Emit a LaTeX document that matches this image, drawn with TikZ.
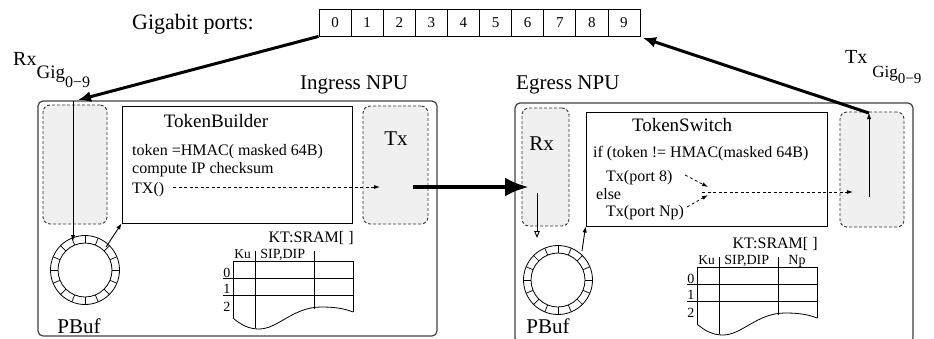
\documentclass[tikz,border=0pt]{standalone}
\usepackage{fontspec}
\setmainfont{Liberation Serif}
\usetikzlibrary{arrows.meta}
\newcommand{\fs}[1]{\fontsize{#1}{#1}\selectfont}
\newcommand{\pbring}[2]{%
  \node[circle, draw, line width=0.8pt, minimum size=69pt, inner sep=0] (#1) at #2 {};
  \node[circle, draw, line width=0.8pt, minimum size=54pt, inner sep=0] (#1i) at #2 {};
  \foreach \a in {0,22.5,...,337.5} \draw[line width=0.7pt] (#1.center) ++(\a:27pt) -- ++(\a:7.5pt);
}
\newcommand{\kttable}[4]{%
  \begin{scope}[shift={(#1,#2)}, line width=0.8pt]
    \draw (0,0) -- (120,0);
    \draw (0,0) -- (0,57);
    \draw (22,-10) -- (22,67);
    \draw (81,-10) -- (81,48);
    \draw (120,0) -- (120,51);
    \draw (-10,17) -- (120,17);
    \draw (-10,34) -- (120,34);
    \draw (0,57) .. controls (8,64) and (16,68) .. (26,68) .. controls (45,68) and (60,46) .. (88,46) .. controls (100,46) and (110,47) .. (120,51);
    \node[anchor=base east, inner sep=0, font=\fs{16}] (kt#4) at (121,-19) {KT:SRAM[ ]};
    \node[anchor=base west, inner sep=0, font=\fs{13.5}] (ku#4) at (1,-3) {Ku};
    \node[anchor=base west, inner sep=0, font=\fs{14}] (sd#4) at (27,-3) {SIP,DIP};
    \node[anchor=base west, inner sep=0, font=\fs{14}] (np#4) at (91,-3) {#3};
    \node[anchor=base west, inner sep=0, font=\fs{14}] (r0#4) at (-10,16) {0};
    \node[anchor=base west, inner sep=0, font=\fs{14}] (r1#4) at (-10,32.5) {1};
    \node[anchor=base west, inner sep=0, font=\fs{14}] (r2#4) at (-10,50) {2};
  \end{scope}
}
\begin{document}
\begin{tikzpicture}[x=1pt,y=-1pt,
  size/.style 2 args={minimum width=#1pt, minimum height=#2pt},
  npu/.style={draw=black!75, line width=1.2pt, rounded corners=5pt, inner sep=0},
  dbox/.style={draw=black!80, dash pattern=on 3pt off 2pt, line width=0.9pt, fill=black!6, rounded corners=7pt, inner sep=0},
  sbox/.style={draw, line width=0.9pt, inner sep=0},
  port/.style={draw, line width=0.8pt, minimum width=32.1pt, minimum height=27pt, inner sep=0, font=\fs{15}},
  txt/.style={inner sep=0, anchor=base west, font=\fs{16}},
  big/.style={inner sep=0, font=\fs{21}},
  thickarrow/.style={line width=3pt, -{Latex[length=13pt,width=11pt]}},
  bigarrow/.style={line width=4.5pt, -{Latex[length=24pt,width=19pt]}},
  thinarrow/.style={line width=0.9pt, -{Latex[length=6pt,width=4.5pt]}},
  openarrow/.style={line width=0.9pt, -{Triangle[open,length=7pt,width=5.5pt]}},
  dasharrow/.style={line width=0.8pt, dash pattern=on 3pt off 2.5pt, -{Latex[length=6pt,width=4pt]}},
  dashline/.style={line width=0.8pt, dash pattern=on 3pt off 2.5pt}]
\useasboundingbox (0,0) rectangle (934,338);

% gigabit ports
\node[anchor=base west, inner sep=0, font=\fs{22}] (gp) at (132,29) {Gigabit ports:};
\foreach \i in {0,...,9} \node[port] (p\i) at ({319+32.1*(\i+0.5)},22.5) {\i};

% port labels
\node[anchor=base west, inner sep=0] (rxl) at (13,65) {\fs{20}Rx\raisebox{-13pt}{\fs{19}Gig\raisebox{-9pt}{\fs{16}0−9}}};
\node[anchor=base west, inner sep=0] (txl) at (845,63) {\fs{20}Tx\hspace{5pt}\raisebox{-14pt}{\fs{17}Gig\raisebox{-6pt}{\fs{15}0−9}}};

% NPU frames
\node[npu, size={399}{235}] (ing) at (237.5,218.5) {};
\node[npu, size={398}{240}] (egr) at (714,223) {};
\node[big, anchor=base west] (ingl) at (300,89) {Ingress NPU};
\node[big, anchor=base west] (egrl) at (516,89) {Egress NPU};

% ingress
\node[dbox, size={64}{119}] (rx1) at (75,164.5) {};
\node[sbox, size={230}{117}] (tb) at (237,164.5) {};
\node[dbox, size={65}{118}] (tx1) at (395.5,165) {};
\node[big, anchor=base] (tx1l) at (396,145) {Tx};
\node[anchor=base, inner sep=0, font=\fs{19}] (tbt) at (216,127) {TokenBuilder};
\node[txt] (tb1) at (132,155) {token =HMAC( masked 64B)};
\node[txt] (tb2) at (132,173) {compute IP checksum};
\node[txt] (tb3) at (132,193) {TX()};
\pbring{ring1}{(85,270)}
\node[big, anchor=base] (pb1) at (79,333) {PBuf};
\kttable{233}{261}{}{a}

% egress
\node[dbox, size={47}{118}] (rx2) at (545.5,167) {};
\node[big, anchor=base] (rx2l) at (541.5,150) {Rx};
\node[sbox, size={241}{114}] (ts) at (706.5,169) {};
\node[dbox, size={64}{115}] (tx2) at (872,169.5) {};
\node[anchor=base, inner sep=0, font=\fs{19}] (tst) at (682,131) {TokenSwitch};
\node[txt] (ts1) at (593,157) {if (token != HMAC(masked 64B)};
\node[txt] (ts2) at (606,181) {Tx(port 8)};
\node[txt] (ts3) at (596,199) {else};
\node[txt] (ts4) at (606,216) {Tx(port Np)};
\pbring{ring2}{(558,280)}
\node[big, anchor=base] (pb2) at (548,333) {PBuf};
\kttable{697}{267}{Np}{b}

% coordinates
\coordinate (rxin1) at (78,100);
\coordinate (rx1top) at (73,101);
\coordinate (ring1in) at (73,241);
\coordinate (ring1out) at (106,247);
\coordinate (d1s) at (173,187);
\coordinate (d1e) at (380,187);
\coordinate (bigs) at (413,187);
\coordinate (bige) at (529,187);
\coordinate (rx2s) at (537,193);
\coordinate (rx2e) at (537,238);
\coordinate (ring2out) at (582,251);
\coordinate (a8s) at (685,175);
\coordinate (a8e) at (708,187);
\coordinate (anps) at (687,207);
\coordinate (anpe) at (708,195);
\coordinate (d2s) at (702,192);
\coordinate (d2e) at (853,192);
\coordinate (tx2b) at (869,197);
\coordinate (tx2t) at (869,113);
\coordinate (txret) at (643,38);

% connectors
\draw[thickarrow] (p0.south west) -- (rxin1);
\draw[thinarrow] (rx1top) -- (ring1in);
\draw[thinarrow] (ring1out) -- (tb.south west);
\draw[dasharrow] (d1s) -- (d1e);
\draw[bigarrow] (bigs) -- (bige);
\draw[openarrow] (rx2s) -- (rx2e);
\draw[thinarrow] (ring2out) -- (ts.south west);
\draw[dasharrow] (a8s) -- (a8e);
\draw[dasharrow] (anps) -- (anpe);
\draw[dasharrow] (d2s) -- (d2e);
\draw[thinarrow] (tx2b) -- (tx2t);
\draw[thickarrow] (tx2t) -- (txret);
\end{tikzpicture}
\end{document}
